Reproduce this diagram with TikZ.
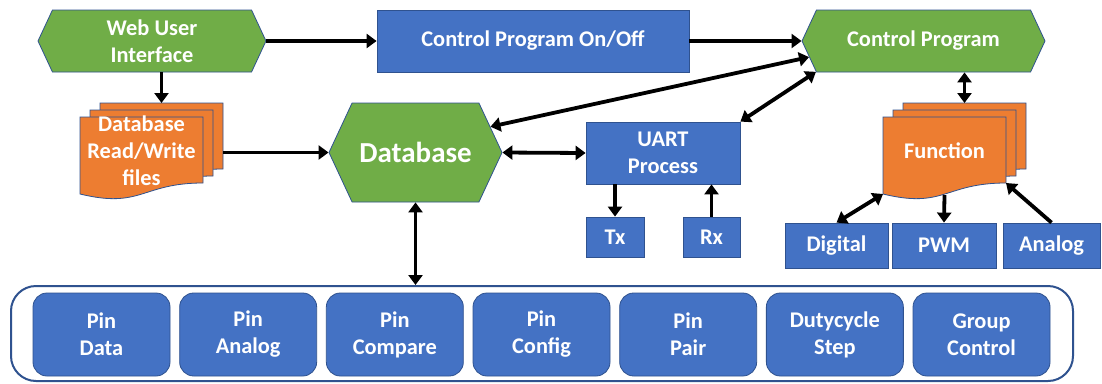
\documentclass[tikz,border=0pt]{standalone}
\usepackage{fontspec}
\setmainfont{Carlito}
\usepackage{tikz}
\usetikzlibrary{arrows.meta,positioning,shapes.symbols}

\definecolor{accgreen}{HTML}{70AD47}
\definecolor{accblue}{HTML}{4472C4}
\definecolor{accorange}{HTML}{ED7D31}
\definecolor{edgeblue}{HTML}{2F528F}

% stack of three pages: #1,#2 = top left of the front page, #3 = name, #4 = text
\newcommand{\pagestack}[4]{%
  \foreach \d in {20,10,0}
    \draw[page] ({#1+\d},{#2-0.7*\d}) -- ++(123,0) -- ++(0,66)
      .. controls +(-61.5,0) and +(61.5,15) .. ++(-123,11) -- cycle;
  \node (#3) at ({#1+61.5},{#2+34}) {#4};
  \coordinate (#3-n) at ({#1+81.5},{#2-14});
  \coordinate (#3-e) at ({#1+143},{#2+35});
  \coordinate (#3-sw) at (#1,{#2+77});
  \coordinate (#3-s) at ({#1+61.5},{#2+78});
  \coordinate (#3-se) at ({#1+123},{#2+66});
}

\begin{document}
\begin{tikzpicture}[x=1pt, y=-1pt,
    every node/.style={font=\bfseries\fontsize{22.4}{27}\selectfont, text=white, align=center, inner sep=0pt},
    hexa/.style={signal, signal to=west and east, signal pointer angle=130, draw=edgeblue, fill=accgreen, line width=0.8pt},
    box/.style={rectangle, draw=edgeblue, fill=accblue, line width=0.8pt},
    pinbox/.style={box, rounded corners=14pt, minimum width=137pt, minimum height=83pt},
    page/.style={draw=edgeblue, fill=accorange, line width=0.8pt},
    arr/.style={-{Triangle[length=10pt,width=14pt]}, line width=3.8pt},
    darr/.style={{Triangle[length=10pt,width=14pt]}-{Triangle[length=10pt,width=14pt]}, line width=3.8pt},
]
\path[fill=white, use as bounding box] (0,0) rectangle (1102,383);

% Top row
\node[hexa, minimum width=228pt, minimum height=62pt] (webui) at (152,41) {Web User\\Interface};
\node[box, minimum width=312pt, minimum height=62pt] (onoff) at (533,41) {Control Program On/Off};
\node[hexa, minimum width=243pt, minimum height=62pt] (cprog) at (923.5,41) {Control Program};

% Middle row
\pagestack{80}{117}{files}{Database\\Read/Write\\files}
\node[hexa, minimum width=173pt, minimum height=99pt, font=\bfseries\fontsize{29}{34}\selectfont] (db) at (415.5,152.5) {Database};
\node[box, minimum width=154pt, minimum height=62pt] (uart) at (663,153) {UART\\Process};
\node[box, minimum width=58pt, minimum height=40pt] (tx) at (615,237) {Tx};
\node[box, minimum width=57pt, minimum height=40pt] (rx) at (711.5,237) {Rx};
\pagestack{883}{117}{func}{Function}
\node[box, minimum width=103pt, minimum height=45pt] (digital) at (836.5,245.5) {Digital};
\node[box, minimum width=104pt, minimum height=45pt] (pwm) at (944,245.5) {PWM};
\node[box, minimum width=97pt, minimum height=45pt] (analog) at (1051.5,245.5) {Analog};

% Bottom row: database tables
\node[draw=edgeblue, line width=2pt, rounded corners=25pt, minimum width=1062pt, minimum height=95pt] (tables) at (542,333.5) {};
\foreach \txt [count=\i from 0] in {{Pin\\Data},{Pin\\Analog},{Pin\\Compare},{Pin\\Config},{Pin\\Pair},{Dutycycle\\Step},{Group\\Control}}
  \node[pinbox] (pin\i) at ({101.5+146.67*\i},334.5) {\txt};

% Connections
\draw[arr] (webui.east) -- (onoff.west);
\draw[arr] (onoff.east) -- (cprog.west);
\draw[arr] (files-n |- webui.south) -- (files-n);
\draw[arr] (files-e |- db.west) -- (db.west);
\draw[darr] (db.east) -- (uart.west);
\draw[darr] (db.19) -- (cprog.188);
\draw[darr] (uart.north east) -- (cprog.196);
\draw[darr] (cprog.south -| func-n) -- (func-n);
\draw[arr] (tx.north |- uart.south) -- (tx.north);
\draw[arr] (rx.north) -- (rx.north |- uart.south);
\draw[darr] (func-sw) -- (digital.north);
\draw[arr] (func-s) -- (pwm.north);
\draw[arr] (analog.north) -- (func-se);
\draw[darr] (db.south) -- (db.south |- tables.north);

\end{tikzpicture}
\end{document}
